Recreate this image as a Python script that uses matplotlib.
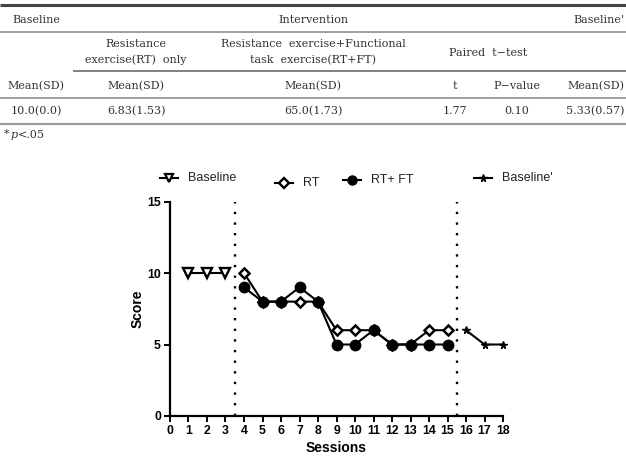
import matplotlib
matplotlib.use("Agg")
import matplotlib.pyplot as plt
from matplotlib.lines import Line2D

# ---------------- data ----------------
baseline_sessions = [1, 2, 3]
baseline_scores = [10, 10, 10]
rt_sessions = [4, 5, 6, 7, 8, 9, 10, 11, 12, 13, 14, 15]
rt_scores = [10, 8, 8, 8, 8, 6, 6, 6, 5, 5, 6, 6]
rtft_sessions = [4, 5, 6, 7, 8, 9, 10, 11, 12, 13, 14, 15]
rtft_scores = [9, 8, 8, 9, 8, 5, 5, 6, 5, 5, 5, 5]
baseline2_sessions = [16, 17, 18]
baseline2_scores = [6, 5, 5]
phase_changes = [3.5, 15.5]
x_ticks = list(range(0, 19))
y_ticks = [0, 5, 10, 15]
legend_labels = ["Baseline", "RT", "RT+ FT", "Baseline'"]

row1 = ["Baseline", "Intervention", "Baseline'"]
row2 = ["Resistance\nexercise(RT)  only", "Resistance  exercise+Functional\ntask  exercise(RT+FT)", "Paired  t\u2212test"]
row3 = ["Mean(SD)", "Mean(SD)", "Mean(SD)", "t", "P\u2212value", "Mean(SD)"]
row4 = ["10.0(0.0)", "6.83(1.53)", "65.0(1.73)", "1.77", "0.10", "5.33(0.57)"]
footnote = "*"

W, H = 626, 468
fig = plt.figure(figsize=(W / 100, H / 100), dpi=100)


def fx(px):
    return px / W


def fy(py):
    return 1 - py / H


def hline(x0, x1, y, lw, color):
    fig.add_artist(Line2D([fx(x0), fx(x1)], [fy(y), fy(y)], transform=fig.transFigure,
                          lw=lw, color=color, solid_capstyle="butt"))


serif = dict(family="DejaVu Serif", fontsize=8, color="#333333")

# ---------------- table ----------------
hline(0, W, 5, 2.2, "#444444")
hline(0, W, 32, 1.3, "#999999")
hline(73, W, 71, 1.3, "#777777")
hline(0, W, 98, 1.3, "#999999")
hline(0, W, 124, 1.6, "#999999")

fig.text(fx(36), fy(20), row1[0], ha="center", va="center", **serif)
fig.text(fx(313), fy(20), row1[1], ha="center", va="center", **serif)
fig.text(fx(624), fy(20), row1[2], ha="right", va="center", **serif)

fig.text(fx(136), fy(52), row2[0], ha="center", va="center", linespacing=1.7, **serif)
fig.text(fx(313), fy(52), row2[1], ha="center", va="center", linespacing=1.7, **serif)
fig.text(fx(488), fy(53), row2[2], ha="center", va="center", **serif)

col_x = [36, 136, 313, 455, 517, 624]
for i, (a, b) in enumerate(zip(row3, row4)):
    ha = "right" if i == 5 else "center"
    fig.text(fx(col_x[i]), fy(86), a, ha=ha, va="center", **serif)
    fig.text(fx(col_x[i]), fy(111), b, ha=ha, va="center", **serif)

fig.text(fx(4), fy(134), footnote, ha="left", va="center", **serif)
fig.text(fx(11), fy(135), "p", ha="left", va="center", family="DejaVu Serif",
         fontsize=8, style="italic", color="#333333")
fig.text(fx(18), fy(135), "<.05", ha="left", va="center", **serif)

# ---------------- chart ----------------
ax = fig.add_axes([fx(170), fy(416), (503 - 170) / W, (416 - 201.5) / H])

common = dict(color="black", lw=1.5, clip_on=False, zorder=3)
ax.plot(baseline_sessions, baseline_scores, marker="v", ms=7, mfc="white", mec="black", mew=1.7, **common)
ax.plot(rt_sessions, rt_scores, marker="D", ms=5.5, mfc="white", mec="black", mew=1.8, **common)
ax.plot(rtft_sessions, rtft_scores, marker="o", ms=7.5, mfc="black", mec="black", **common)
ax.plot(baseline2_sessions, baseline2_scores, marker="*", ms=5.5, mfc="black", mec="black", **common)

for xc in phase_changes:
    ax.plot([xc, xc], [0, 15], ls=(0, (1, 3.5)), color="black", lw=1.7, clip_on=False, zorder=2)

ax.set_xlim(0, 18)
ax.set_ylim(0, 15)
ax.set_xticks(x_ticks)
ax.set_yticks(y_ticks)
for s in ["top", "right"]:
    ax.spines[s].set_visible(False)
for s in ["left", "bottom"]:
    ax.spines[s].set_linewidth(1.6)
ax.tick_params(direction="out", length=4.5, width=1.4, pad=2)
for lab in ax.get_xticklabels() + ax.get_yticklabels():
    lab.set_fontfamily("Liberation Sans")
    lab.set_fontweight("bold")
    lab.set_fontsize(8.8)
ax.set_xlabel("Sessions", family="Liberation Sans", fontweight="bold", fontsize=10, labelpad=3)
ax.set_ylabel("Score", family="Liberation Sans", fontweight="bold", fontsize=10, labelpad=2)

# ---------------- legend (manual row above chart) ----------------
leg_specs = [
    (169, 178, dict(marker="v", ms=6, mfc="white", mec="black", mew=1.6)),
    (284, 183, dict(marker="D", ms=5, mfc="white", mec="black", mew=1.7)),
    (352, 180, dict(marker="o", ms=6.5, mfc="black", mec="black")),
    (483, 178, dict(marker="*", ms=5.5, mfc="black", mec="black")),
]
for (mx, my, style), lab in zip(leg_specs, legend_labels):
    fig.add_artist(Line2D([fx(mx - 9), fx(mx + 9)], [fy(my), fy(my)], transform=fig.transFigure,
                          color="black", lw=1.5))
    fig.add_artist(Line2D([fx(mx)], [fy(my)], transform=fig.transFigure, color="black", **style))
    fig.text(fx(mx + 19), fy(my), lab, ha="left", va="center", family="Liberation Sans",
             fontsize=9, color="#222222")

fig.savefig("out.png", dpi=100)
